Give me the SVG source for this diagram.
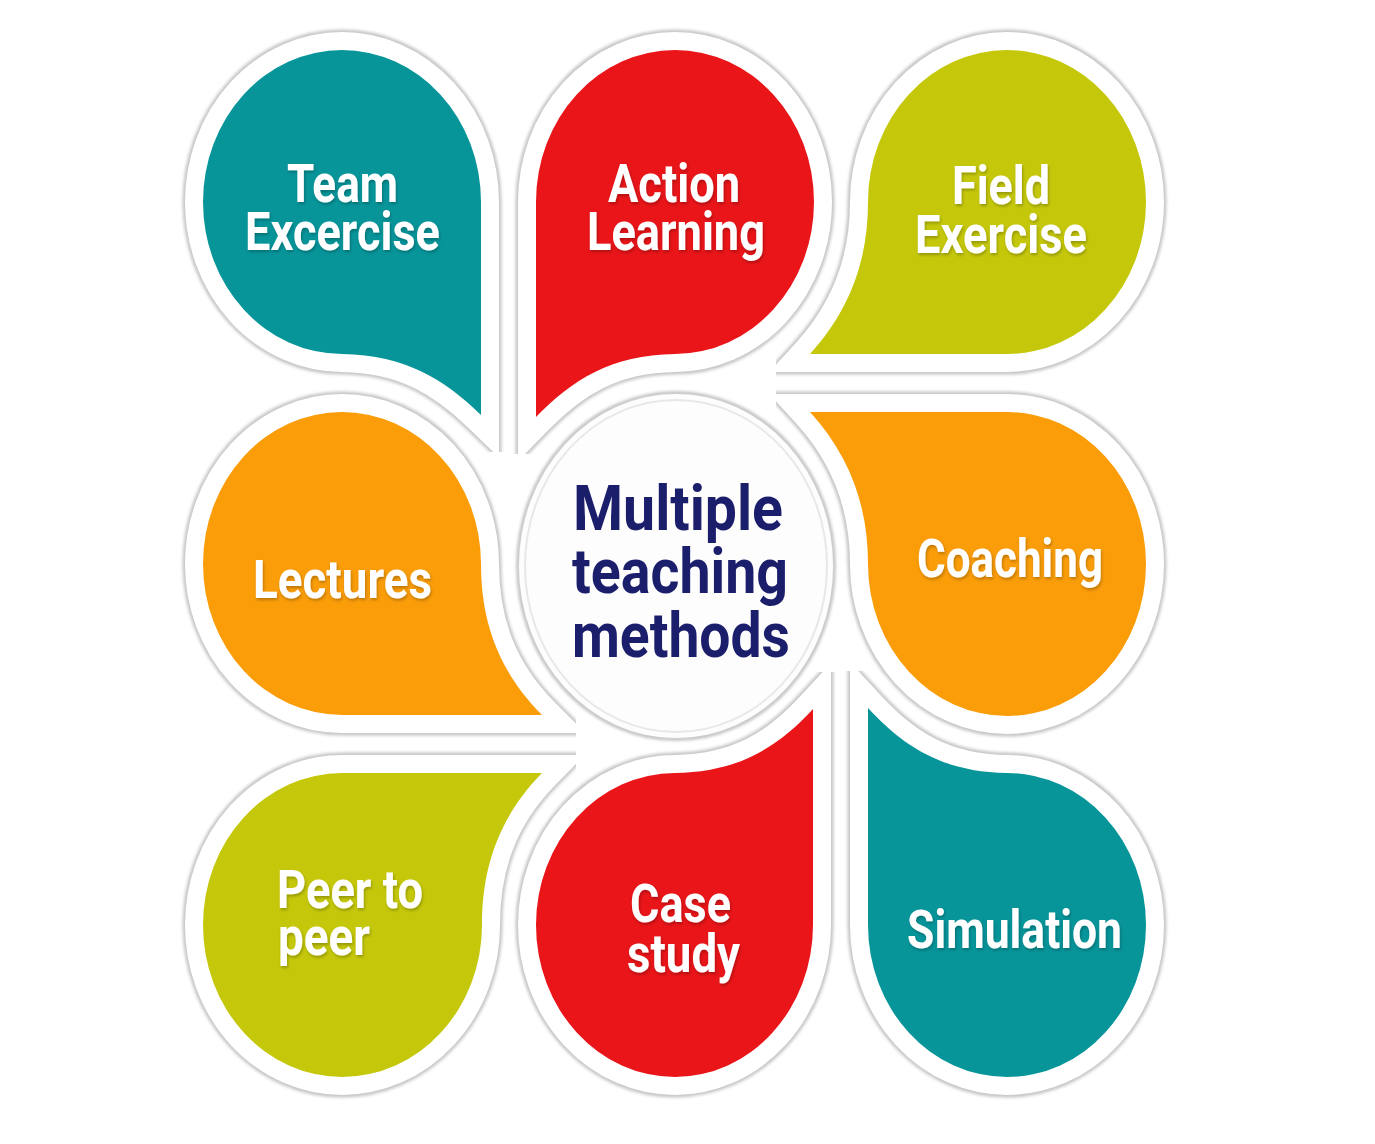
<svg xmlns="http://www.w3.org/2000/svg" xmlns:xlink="http://www.w3.org/1999/xlink" width="1375" height="1144" viewBox="0 0 1375 1144">
  <style>
    .shadow { fill: none; stroke: #c6c6c6; stroke-width: 41; stroke-linejoin: miter; stroke-miterlimit: 4; filter: url(#blur); }
    .border { fill: none; stroke: #ffffff; stroke-width: 36; stroke-linejoin: miter; stroke-miterlimit: 4; }
    .teal { fill: #07959a; }
    .red { fill: #e91519; }
    .lime { fill: #c5c80a; }
    .orange { fill: #fa9d09; }
    .label { font-family: Roboto, "Liberation Sans", sans-serif; font-weight: 700; font-size: 54px; fill: #ffffff; filter: url(#tshadow); }
    .center { font-family: Roboto, "Liberation Sans", sans-serif; font-weight: 700; font-size: 63px; fill: #1b1f6b; }
  </style>
  <defs>
    <filter id="blur" x="-10%" y="-10%" width="120%" height="120%">
      <feGaussianBlur stdDeviation="1.6"/>
    </filter>
    <filter id="tshadow" x="-10%" y="-20%" width="120%" height="140%">
      <feDropShadow dx="1" dy="2" stdDeviation="1.5" flood-color="#000" flood-opacity="0.25"/>
    </filter>
    <path id="p-team" d="M 342 50 A 139 152 0 0 1 481 202 L 481 415 C 445 380 406 355 342 354 A 139 152 0 0 1 203 202 A 139 152 0 0 1 342 50 Z"/>
    <path id="p-action" d="M 675 50 A 139 152 0 0 1 814 202 A 139 152 0 0 1 675 354 C 611 355 572 380 536 417 L 536 202 A 139 152 0 0 1 675 50 Z"/>
    <path id="p-field" d="M 1007 50 A 139 152 0 0 1 1146 202 A 139 152 0 0 1 1007 354 L 810 354 C 850 310 868 260 868 202 A 139 152 0 0 1 1007 50 Z"/>
    <path id="p-lectures" d="M 342 412 A 139 152 0 0 1 481 564 C 481 622 499 672 542 715 L 342 715 A 139 151 0 0 1 203 564 A 139 152 0 0 1 342 412 Z"/>
    <path id="p-coaching" d="M 810 412 L 1007 412 A 139 152 0 0 1 1146 564 A 139 152 0 0 1 1007 716 A 139 152 0 0 1 868 564 C 868 506 850 456 810 412 Z"/>
    <path id="p-peer" d="M 342 773 L 542 773 C 499 817 482 867 482 925 A 140 152 0 0 1 342 1077 A 139 152 0 0 1 203 925 A 139 152 0 0 1 342 773 Z"/>
    <path id="p-case" d="M 675 773 C 739 772 778 747 813 709 L 813 925 A 138 152 0 0 1 675 1077 A 139 152 0 0 1 536 925 A 139 152 0 0 1 675 773 Z"/>
    <path id="p-sim" d="M 868 708 C 904 747 943 772 1007 773 A 139 152 0 0 1 1146 925 A 139 152 0 0 1 1007 1077 A 139 152 0 0 1 868 925 Z"/>
  </defs>

  <rect width="1375" height="1144" fill="#ffffff"/>

  <g id="connectors"></g>

  <g id="node-team">
    <use xlink:href="#p-team" class="shadow"/>
    <use xlink:href="#p-team" class="border"/>
    <use xlink:href="#p-team" class="teal"/>
    <text class="label"><tspan x="287" y="202" textLength="111" lengthAdjust="spacingAndGlyphs">Team</tspan><tspan x="245" y="250" textLength="195" lengthAdjust="spacingAndGlyphs">Excercise</tspan></text>
  </g>

  <g id="node-action">
    <use xlink:href="#p-action" class="shadow"/>
    <use xlink:href="#p-action" class="border"/>
    <use xlink:href="#p-action" class="red"/>
    <text class="label"><tspan x="608" y="202" textLength="132" lengthAdjust="spacingAndGlyphs">Action</tspan><tspan x="587" y="250" textLength="178" lengthAdjust="spacingAndGlyphs">Learning</tspan></text>
  </g>

  <g id="node-field">
    <use xlink:href="#p-field" class="shadow"/>
    <use xlink:href="#p-field" class="border"/>
    <use xlink:href="#p-field" class="lime"/>
    <text class="label"><tspan x="952" y="204" textLength="98" lengthAdjust="spacingAndGlyphs">Field</tspan><tspan x="915" y="253" textLength="172" lengthAdjust="spacingAndGlyphs">Exercise</tspan></text>
  </g>

  <g id="node-lectures">
    <use xlink:href="#p-lectures" class="shadow"/>
    <use xlink:href="#p-lectures" class="border"/>
    <use xlink:href="#p-lectures" class="orange"/>
    <text class="label" x="253" y="598" textLength="179" lengthAdjust="spacingAndGlyphs">Lectures</text>
  </g>

  <g id="node-coaching">
    <use xlink:href="#p-coaching" class="shadow"/>
    <use xlink:href="#p-coaching" class="border"/>
    <use xlink:href="#p-coaching" class="orange"/>
    <text class="label" x="917" y="577" textLength="186" lengthAdjust="spacingAndGlyphs">Coaching</text>
  </g>

  <g id="node-peer">
    <use xlink:href="#p-peer" class="shadow"/>
    <use xlink:href="#p-peer" class="border"/>
    <use xlink:href="#p-peer" class="lime"/>
    <text class="label"><tspan x="277" y="908" textLength="146" lengthAdjust="spacingAndGlyphs">Peer to</tspan><tspan x="278" y="955" textLength="92" lengthAdjust="spacingAndGlyphs">peer</tspan></text>
  </g>

  <g id="node-case">
    <use xlink:href="#p-case" class="shadow"/>
    <use xlink:href="#p-case" class="border"/>
    <use xlink:href="#p-case" class="red"/>
    <text class="label"><tspan x="630" y="922" textLength="101" lengthAdjust="spacingAndGlyphs">Case</tspan><tspan x="627" y="972" textLength="113" lengthAdjust="spacingAndGlyphs">study</tspan></text>
  </g>

  <g id="node-simulation">
    <use xlink:href="#p-sim" class="shadow"/>
    <use xlink:href="#p-sim" class="border"/>
    <use xlink:href="#p-sim" class="teal"/>
    <text class="label" x="907" y="948" textLength="215" lengthAdjust="spacingAndGlyphs">Simulation</text>
  </g>

  <g id="node-center">
    <ellipse cx="676" cy="566" rx="158" ry="173" fill="none" stroke="#bdbdbd" stroke-width="3.5" filter="url(#blur)"/>
    <ellipse cx="676" cy="566" rx="157" ry="172" fill="#fdfdfd"/>
    <ellipse cx="676" cy="566" rx="151" ry="166" fill="none" stroke="#e8e8e8" stroke-width="2"/>
    <text class="center"><tspan x="573" y="530" textLength="210" lengthAdjust="spacingAndGlyphs">Multiple</tspan><tspan x="572" y="593" textLength="216" lengthAdjust="spacingAndGlyphs">teaching</tspan><tspan x="572" y="657" textLength="218" lengthAdjust="spacingAndGlyphs">methods</tspan></text>
  </g>
</svg>
